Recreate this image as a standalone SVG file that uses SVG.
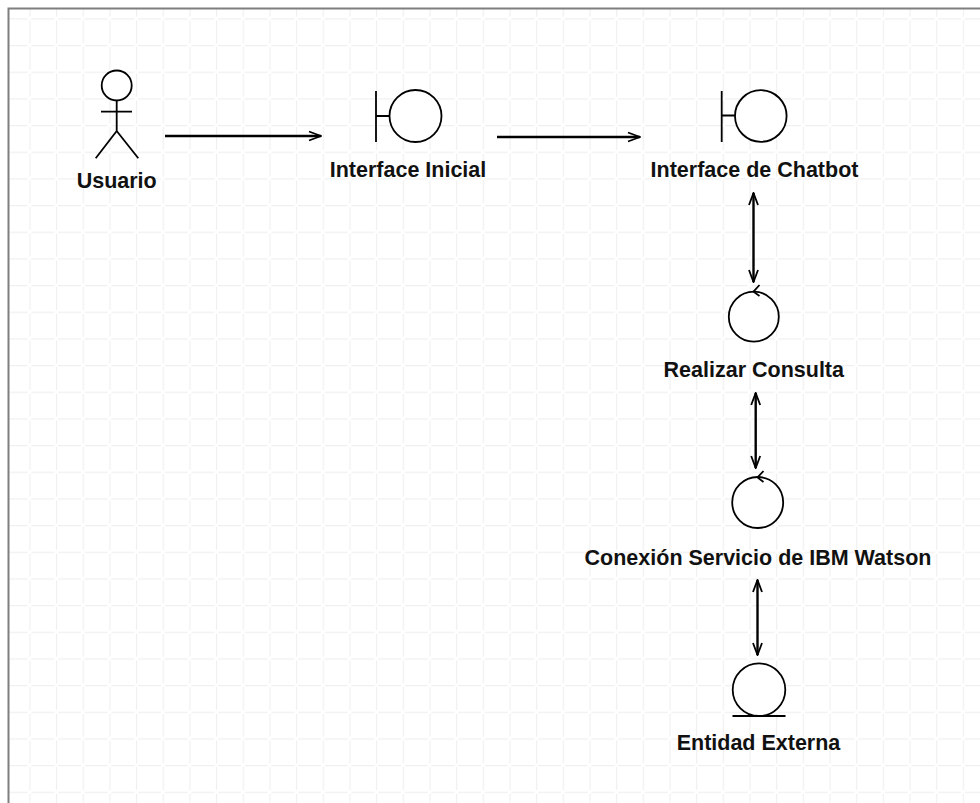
<svg xmlns="http://www.w3.org/2000/svg" width="980" height="803" viewBox="0 0 980 803">
<defs>
<pattern id="grid" x="2.67" y="18.3" width="26.67" height="26.67" patternUnits="userSpaceOnUse">
<path d="M2 0.6H25M0.6 2V25" fill="none" stroke="#f0f0f0" stroke-width="1.2"/>
</pattern>
<marker id="open" viewBox="0 0 14 12" refX="13" refY="6" markerWidth="14" markerHeight="12" markerUnits="userSpaceOnUse" orient="auto-start-reverse">
<path d="M1 1.5L13 6L1 10.5" fill="none" stroke="#000" stroke-width="1.8"/>
</marker>
<style>
.s{fill:#fff;stroke:#000;stroke-width:1.8}
.l{fill:none;stroke:#000;stroke-width:1.8}
.t{font-family:"Liberation Sans",Arial,sans-serif;font-weight:bold;font-size:21.5px;fill:#111;text-anchor:middle}
.c{fill:none;stroke:#000;stroke-width:2.4}
</style>
</defs>
<rect width="980" height="803" fill="#fff"/>
<rect x="9" y="9" width="971" height="794" fill="url(#grid)"/>
<path d="M8.5 803V8.5H980" fill="none" stroke="#7f7f7f" stroke-width="2"/>
<g id="connectors">
<line class="c" x1="165" y1="136" x2="321" y2="136" marker-end="url(#open)"/>
<line class="c" x1="497" y1="137" x2="640" y2="137" marker-end="url(#open)"/>
<line class="c" x1="753.5" y1="193" x2="753.5" y2="282" marker-start="url(#open)" marker-end="url(#open)"/>
<line class="c" x1="755.7" y1="393" x2="755.7" y2="468" marker-start="url(#open)" marker-end="url(#open)"/>
<line class="c" x1="757.5" y1="580" x2="757.5" y2="655" marker-start="url(#open)" marker-end="url(#open)"/>
</g>
<g id="usuario">
<circle class="s" cx="116.7" cy="85.5" r="15"/>
<path class="l" d="M101 111.7H132M116.7 100.5V131M116.7 131L95.7 158.3M116.7 131L138.3 158.3"/>
<text class="t" x="116.7" y="188">Usuario</text>
</g>
<g id="interface-inicial">
<path class="l" d="M376 91V142M376 116H389.5"/>
<circle class="s" cx="415.5" cy="116" r="26"/>
<text class="t" x="408" y="177">Interface Inicial</text>
</g>
<g id="interface-chatbot">
<path class="l" d="M721.7 91V142M721.7 115.5H735"/>
<circle class="s" cx="760.8" cy="116" r="25.8"/>
<text class="t" x="754.5" y="177">Interface de Chatbot</text>
</g>
<g id="realizar-consulta">
<circle class="s" cx="753.8" cy="316.7" r="25"/>
<path class="l" d="M759.5 285L753.5 291.7L759.5 296" stroke-width="1.3"/>
<text class="t" x="753.8" y="377">Realizar Consulta</text>
</g>
<g id="conexion-watson">
<circle class="s" cx="757.7" cy="502.5" r="25.5"/>
<path class="l" d="M763.5 471L757.5 477.5L763.5 482" stroke-width="1.3"/>
<text class="t" x="758" y="564.5">Conexión Servicio de IBM Watson</text>
</g>
<g id="entidad-externa">
<circle class="s" cx="759" cy="689.7" r="26.3"/>
<path class="l" d="M732.5 716H785.5"/>
<text class="t" x="758.5" y="750">Entidad Externa</text>
</g>
</svg>
